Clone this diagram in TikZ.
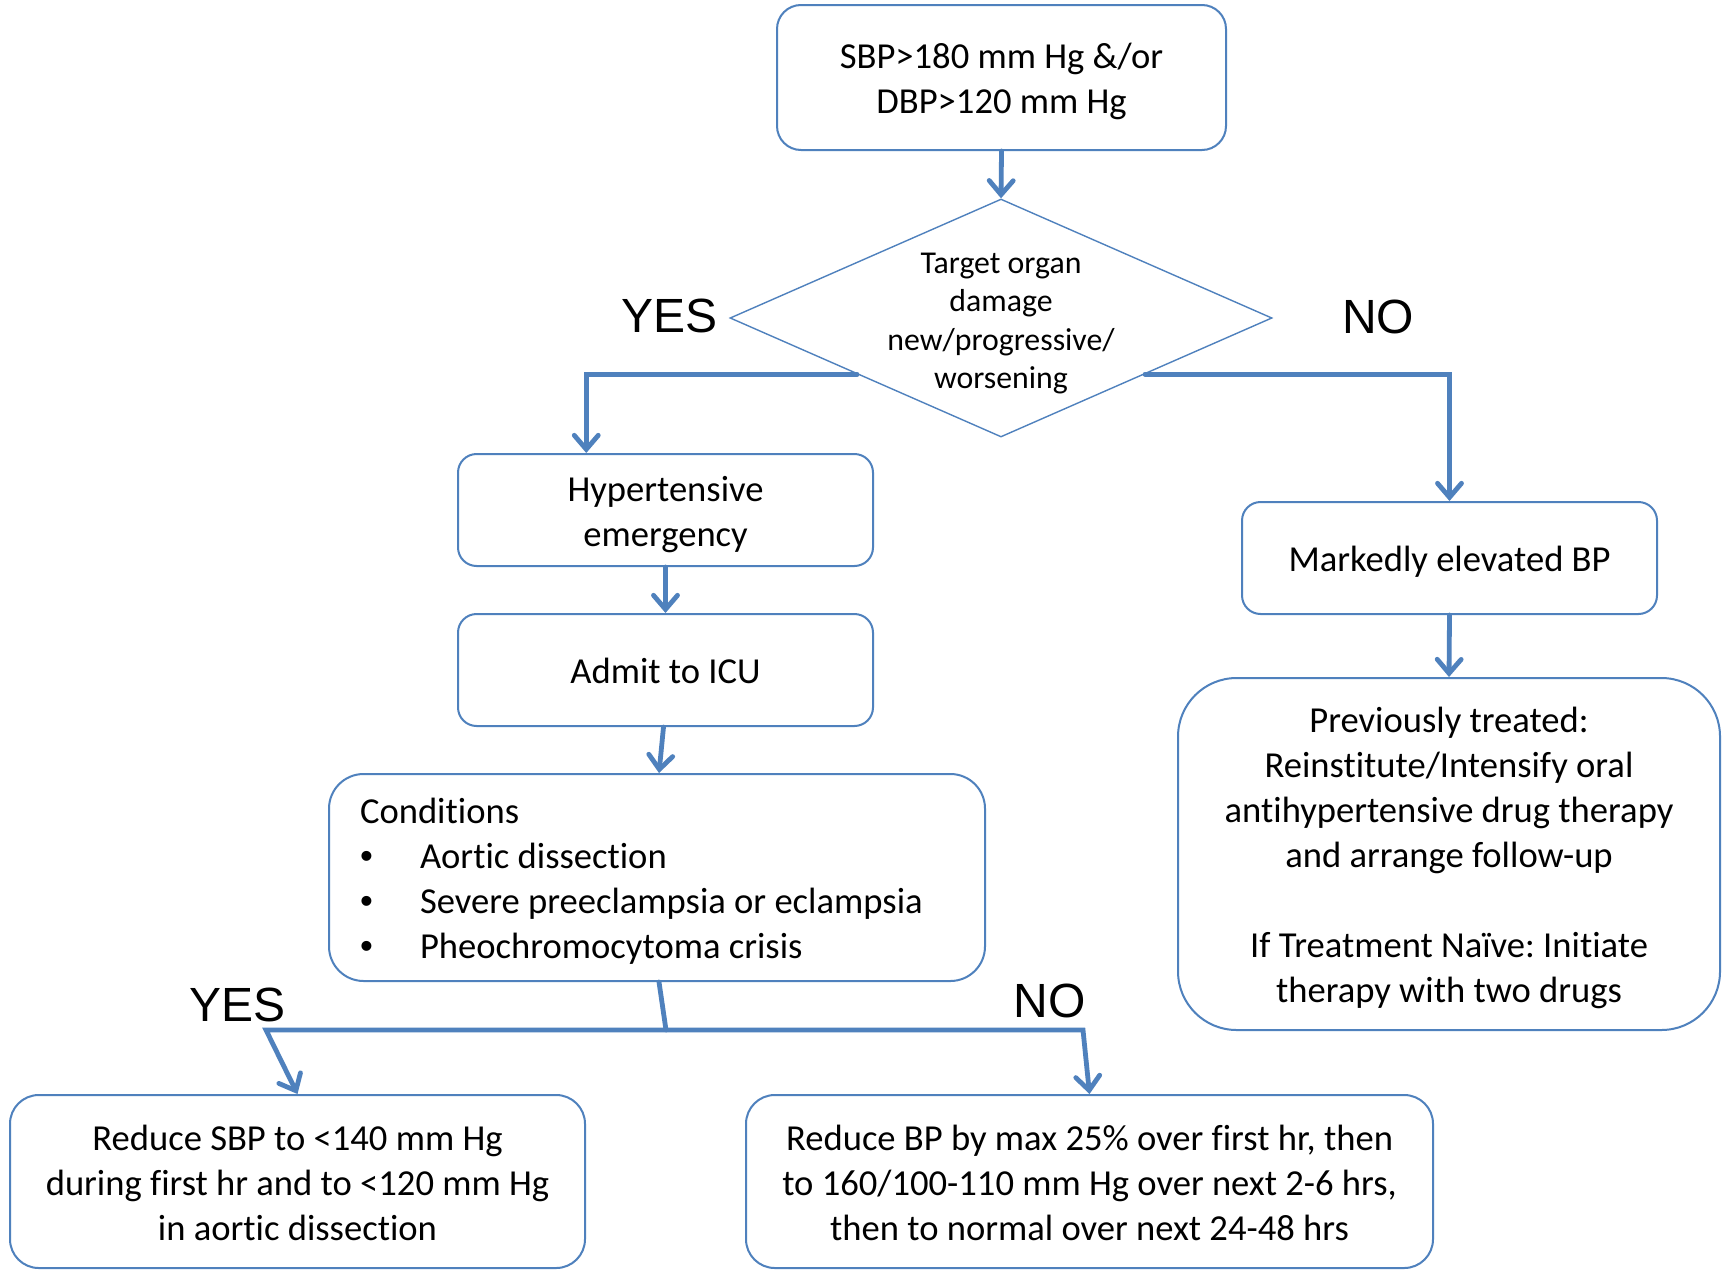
\documentclass[tikz,border=0pt]{standalone}
\usepackage{fontspec}
\setmainfont{Carlito}[Ligatures=NoCommon]
\newfontfamily\labelfont{Liberation Sans}
\definecolor{FlowBlue}{HTML}{4F81BD}
\usepackage{tikz}
\usetikzlibrary{arrows.meta, positioning, calc, shapes.geometric}
\frenchspacing

\newcommand{\flowbullet}{\makebox[30pt][l]{\labelfont •}}

\tikzset{
  flowtip/.tip={Straight Barb[length=7pt, width=12pt, line cap=round]},
  box/.style={draw=FlowBlue, line width=1pt, fill=white, align=flush center, inner sep=0pt,
    font=\fontsize{18.3}{22.5}\selectfont,
    execute at begin node={\rule{0pt}{18.3pt}},
    execute at end node={\rule[-4.5pt]{0pt}{4.5pt}}},
  smallbox/.style={box, rounded corners=9.3pt, minimum width=207.5pt, minimum height=56pt, text width=207.5pt},
  decision/.style={diamond, draw=FlowBlue, line width=0.7pt, inner sep=0pt,
    minimum width=271pt, minimum height=119pt},
  yesno/.style={font=\labelfont\fontsize{24}{28}\selectfont, inner sep=0pt},
  flow/.style={draw=FlowBlue, line width=2.4pt, line cap=round, line join=miter},
  arr/.style={flow, -flowtip},
}

\begin{document}
\begin{tikzpicture}[x=0.5pt, y=-0.5pt]
  \useasboundingbox (0,0) rectangle (1722,1269);
  \fill[white] (0,0) rectangle (1722,1269);
  % Start
  \node[box, rounded corners=12pt, minimum width=224.5pt, minimum height=72.5pt, text width=224.5pt] (bp) at (1001.5,77.5)
    {SBP>180 mm Hg \&/or\\DBP>120 mm Hg};
  % Decision: target organ damage
  \node[decision] (tod) at (1001,318) {};
  \node[align=flush center, inner sep=0pt, text width=150pt, font=\fontsize{15.9}{19.3}\selectfont,
    execute at begin node={\rule{0pt}{16pt}},
    execute at end node={\rule[-4pt]{0pt}{4pt}}] (todtext) at (1001,319)
    {Target organ\\damage\\new/progressive/\\worsening};
  \node[yesno] (yestop) at (669.5,316) {YES};
  \node[yesno] (notop) at (1378,316.5) {NO};
  % YES branch
  \node[smallbox] (emerg) at (665.5,510) {Hypertensive\\emergency};
  \node[smallbox] (icu) at (665.5,670) {Admit to ICU};
  \node[box, rounded corners=17.3pt, minimum width=328pt, minimum height=103.5pt,
    align=flush left, text width=297pt, inner xsep=15.5pt] (cond) at (657,877.5)
    {Conditions\\
     \flowbullet Aortic dissection\\
     \flowbullet Severe preeclampsia or eclampsia\\
     \flowbullet Pheochromocytoma crisis};
  \node[yesno] (yesbot) at (237.5,1005) {YES};
  \node[yesno] (nobot) at (1049.5,1001) {NO};
  \node[box, rounded corners=14.4pt, minimum width=287.5pt, minimum height=86.5pt, text width=287.5pt] (dissect) at (297.5,1181.5)
    {Reduce SBP to <140 mm Hg\\during first hr and to <120 mm Hg\\in aortic dissection};
  \node[box, rounded corners=14.4pt, minimum width=343.5pt, minimum height=86.5pt, text width=343.5pt] (other) at (1089.5,1181.5)
    {Reduce BP by max 25\% over first hr, then\\to 160/100-110 mm Hg over next 2-6 hrs,\\then to normal over next 24-48 hrs};
  % NO branch
  \node[smallbox] (marked) at (1449.5,558) {Markedly elevated BP};
  \node[box, rounded corners=29.3pt, minimum width=271pt, minimum height=176pt, text width=271pt] (oral) at (1449,854)
    {Previously treated:\\Reinstitute/Intensify oral\\antihypertensive drug therapy\\and arrange follow-up\\[22.5pt]If Treatment Naïve: Initiate\\therapy with two drugs};
  % Connectors
  \coordinate (yesout) at ($(tod.west)!0.47!(tod.south)$);
  \coordinate (noout) at ($(tod.east)!0.47!(tod.south)$);
  \coordinate (split) at (666,1030);
  \coordinate (yesfork) at (266,1030);
  \coordinate (nofork) at (1083,1030);
  \draw[arr] (bp.south) -- (tod.north);
  \draw[arr] (yesout) -| ($(emerg.north west)!0.31!(emerg.north east)$);
  \draw[arr] (noout) -| (marked.north);
  \draw[arr] (emerg.south) -- (icu.north);
  \draw[arr] ($(icu.south)+(-2,0)$) -- ($(cond.north)+(2,0)$);
  \draw[flow] ($(cond.south)+(2,0)$) -- (split);
  \draw[flow, flowtip-flowtip] (dissect.north) -- (yesfork) -- (nofork) -- (other.north);
  \draw[arr] (marked.south) -- (oral.north);
\end{tikzpicture}
\end{document}
